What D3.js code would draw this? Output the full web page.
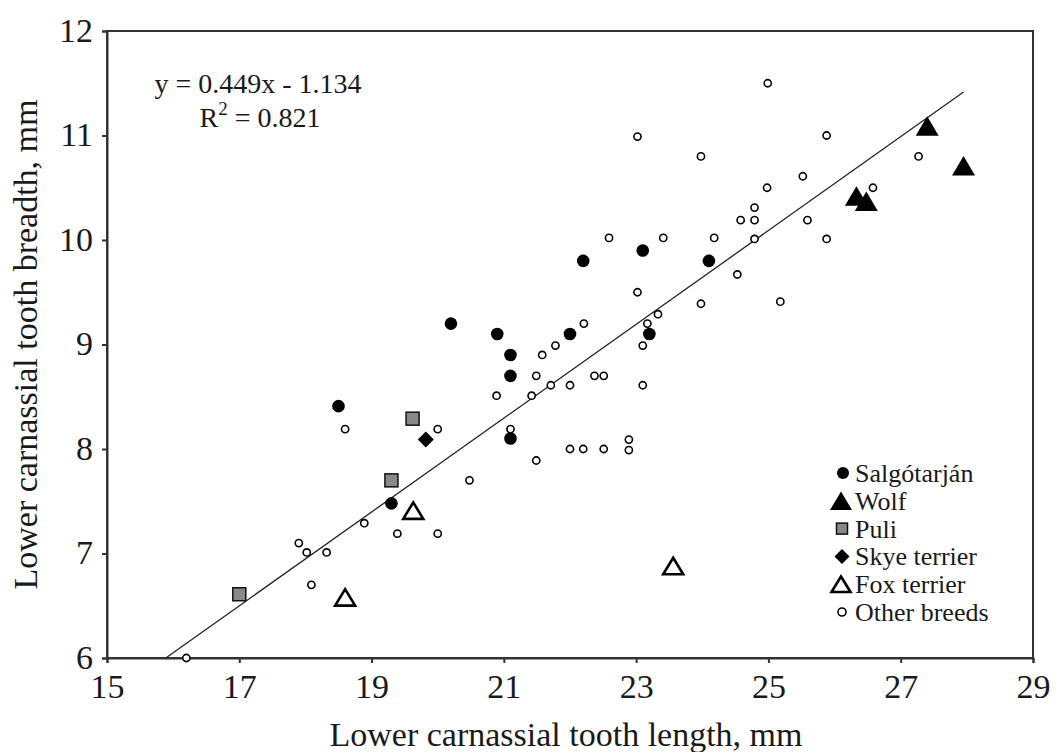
<!DOCTYPE html>
<html>
<head>
<meta charset="utf-8">
<script src="https://cdn.jsdelivr.net/npm/d3@7/dist/d3.min.js"></script>
<style>
  html, body { margin: 0; padding: 0; background: #fff; }
  svg { display: block; font-family: "Liberation Serif", "Times New Roman", serif; }
</style>
</head>
<body>
<svg id="chart" width="1057" height="752"></svg>
<script>
// ---- Data ----
const seriesNames = ["Salgótarján", "Wolf", "Puli", "Skye terrier", "Fox terrier", "Other breeds"];

const salgoX = [18.5, 20.2, 20.9, 21.1, 21.1, 22.0, 22.2, 23.1, 23.2, 24.1, 21.1, 19.3];
const salgoY = [8.41, 9.2, 9.1, 8.9, 8.7, 9.1, 9.8, 9.9, 9.1, 9.8, 8.1, 7.48];

const wolfX = [27.4, 27.95, 26.33, 26.48];
const wolfY = [11.09, 10.71, 10.42, 10.37];

const puliX = [17.0, 19.3, 19.62];
const puliY = [6.61, 7.7, 8.29];

const skyeX = [19.82];
const skyeY = [8.09];

const foxX = [18.6, 19.63, 23.56];
const foxY = [6.58, 7.41, 6.88];

const otherX = [16.2, 17.9, 18.02, 18.32, 18.09, 18.89, 19.39, 20.0, 20.48, 21.49,
                22.0, 22.2, 22.51, 22.89, 22.89, 18.6, 20.0, 21.1, 20.89, 21.42,
                21.49, 21.71, 22.0, 21.58, 21.78, 22.21, 22.37, 22.51, 23.1, 23.1,
                23.17, 23.33, 23.02, 23.98, 22.59, 23.41, 24.18, 23.02, 23.98, 24.99,
                25.88, 25.52, 24.98, 24.79, 24.58, 24.79, 25.59, 26.58, 27.27, 24.79,
                25.88, 24.53, 25.18];
const otherY = [6.0, 7.1, 7.01, 7.01, 6.7, 7.29, 7.19, 7.19, 7.7, 7.89,
                8.0, 8.0, 8.0, 7.99, 8.09, 8.19, 8.19, 8.19, 8.51, 8.51,
                8.7, 8.61, 8.61, 8.9, 8.99, 9.2, 8.7, 8.7, 8.61, 8.99,
                9.2, 9.29, 9.5, 9.39, 10.02, 10.02, 10.02, 10.99, 10.8, 11.5,
                11.0, 10.61, 10.5, 10.31, 10.19, 10.19, 10.19, 10.5, 10.8, 10.01,
                10.01, 9.67, 9.41];

const xTicks = [15, 17, 19, 21, 23, 25, 27, 29];
const yTicks = [6, 7, 8, 9, 10, 11, 12];

const fitSlope = 0.449;
const fitIntercept = -1.134;
const fitLabel = "y = 0.449x - 1.134";
const r2Value = "0.821";

const xTitle = "Lower carnassial tooth length, mm";
const yTitle = "Lower carnassial tooth breadth, mm";

// ---- Layout ----
const svg = d3.select("#chart");
const L = 107, R = 1033, T = 31, B = 658;
const x = d3.scaleLinear().domain([15, 29]).range([L, R]);
const y = d3.scaleLinear().domain([6, 12]).range([B, T]);
const ink = "#1a1a1a";

// frame
svg.append("rect")
  .attr("x", L).attr("y", T).attr("width", R - L).attr("height", B - T)
  .attr("fill", "none").attr("stroke", "#333").attr("stroke-width", 2);

// axes
const xAxis = svg.append("g").attr("transform", `translate(0,${B})`)
  .call(d3.axisBottom(x).tickValues(xTicks).tickSize(5).tickPadding(11).tickFormat(d3.format("d")));
const yAxis = svg.append("g").attr("transform", `translate(${L},0)`)
  .call(d3.axisLeft(y).tickValues(yTicks).tickSize(5).tickPadding(9).tickFormat(d3.format("d")));
[xAxis, yAxis].forEach(g => {
  g.select(".domain").attr("stroke", "#333").attr("stroke-width", 2);
  g.selectAll(".tick line").attr("stroke", "#333").attr("stroke-width", 2);
  g.selectAll(".tick text").attr("fill", ink)
    .style("font-family", '"Liberation Serif", "Times New Roman", serif')
    .style("font-size", "34px");
});
yAxis.selectAll(".tick text").attr("dy", "0.3em");

// axis titles
svg.append("text").attr("x", (L + R) / 2 - 4).attr("y", 746)
  .attr("text-anchor", "middle").attr("fill", ink).style("font-size", "34px").text(xTitle);
svg.append("text").attr("transform", `translate(37,${(T + B) / 2}) rotate(-90)`)
  .attr("text-anchor", "middle").attr("fill", ink).style("font-size", "34px").text(yTitle);

// regression line
const allX = [].concat(salgoX, wolfX, puliX, skyeX, foxX, otherX);
const x0 = (6 - fitIntercept) / fitSlope;
const x1 = d3.max(allX);
svg.append("line")
  .attr("x1", x(x0)).attr("y1", y(fitSlope * x0 + fitIntercept))
  .attr("x2", x(x1)).attr("y2", y(fitSlope * x1 + fitIntercept))
  .attr("stroke", "#222").attr("stroke-width", 1.3);

// annotation
svg.append("text").attr("x", 258).attr("y", 93).attr("text-anchor", "middle")
  .attr("fill", ink).style("font-size", "28px").text(fitLabel);
const r2 = svg.append("text").attr("x", 260).attr("y", 127).attr("text-anchor", "middle")
  .attr("fill", ink).style("font-size", "28px");
r2.append("tspan").text("R");
r2.append("tspan").attr("dy", -12).style("font-size", "19px").text("2");
r2.append("tspan").attr("dy", 12).text(" = " + r2Value);

// symbol helpers
function tri(w, h) { return `M0,${-h / 2}L${w / 2},${h / 2}L${-w / 2},${h / 2}Z`; }
function diamond(s) { return `M0,${-s / 2}L${s / 2},0L0,${s / 2}L${-s / 2},0Z`; }
function pairs(xs, ys) { return xs.map((v, i) => [v, ys[i]]); }

const gPts = svg.append("g");

// Other breeds
gPts.selectAll(".other").data(pairs(otherX, otherY)).join("circle")
  .attr("cx", d => x(d[0])).attr("cy", d => y(d[1])).attr("r", 3.6)
  .attr("fill", "#fff").attr("stroke", "#000").attr("stroke-width", 1.6);

// Fox terrier
gPts.selectAll(".fox").data(pairs(foxX, foxY)).join("path")
  .attr("transform", d => `translate(${x(d[0])},${y(d[1])})`)
  .attr("d", tri(20, 16.5)).attr("fill", "#fff").attr("stroke", "#000").attr("stroke-width", 2.6);

// Puli
gPts.selectAll(".puli").data(pairs(puliX, puliY)).join("rect")
  .attr("x", d => x(d[0]) - 6.5).attr("y", d => y(d[1]) - 6.5)
  .attr("width", 13).attr("height", 13)
  .attr("fill", "#888").attr("stroke", "#111").attr("stroke-width", 1.5);

// Skye terrier
gPts.selectAll(".skye").data(pairs(skyeX, skyeY)).join("path")
  .attr("transform", d => `translate(${x(d[0])},${y(d[1])})`)
  .attr("d", diamond(16)).attr("fill", "#000");

// Salgótarján
gPts.selectAll(".salgo").data(pairs(salgoX, salgoY)).join("circle")
  .attr("cx", d => x(d[0])).attr("cy", d => y(d[1])).attr("r", 6.3).attr("fill", "#000");

// Wolf
gPts.selectAll(".wolf").data(pairs(wolfX, wolfY)).join("path")
  .attr("transform", d => `translate(${x(d[0])},${y(d[1])})`)
  .attr("d", tri(23, 19.5)).attr("fill", "#000");

// legend
const leg = svg.append("g");
seriesNames.forEach((name, i) => {
  const cy = 473 + i * 27.8, cx = 842;
  if (i === 0) leg.append("circle").attr("cx", cx + 1).attr("cy", cy).attr("r", 6).attr("fill", "#000");
  if (i === 1) leg.append("path").attr("transform", `translate(${cx - 1},${cy})`).attr("d", tri(22, 18.5)).attr("fill", "#000");
  if (i === 2) leg.append("rect").attr("x", cx - 5.5).attr("y", cy - 5.5).attr("width", 11).attr("height", 11)
    .attr("fill", "#888").attr("stroke", "#111").attr("stroke-width", 1.5);
  if (i === 3) leg.append("path").attr("transform", `translate(${cx},${cy})`).attr("d", diamond(15)).attr("fill", "#000");
  if (i === 4) leg.append("path").attr("transform", `translate(${cx - 1},${cy})`).attr("d", tri(19, 15.5))
    .attr("fill", "#fff").attr("stroke", "#000").attr("stroke-width", 2.6);
  if (i === 5) leg.append("circle").attr("cx", cx).attr("cy", cy).attr("r", 4)
    .attr("fill", "#fff").attr("stroke", "#000").attr("stroke-width", 1.6);
  leg.append("text").attr("x", 855).attr("y", cy + 9)
    .attr("fill", ink).style("font-size", "26px").text(name);
});
</script>
</body>
</html>
